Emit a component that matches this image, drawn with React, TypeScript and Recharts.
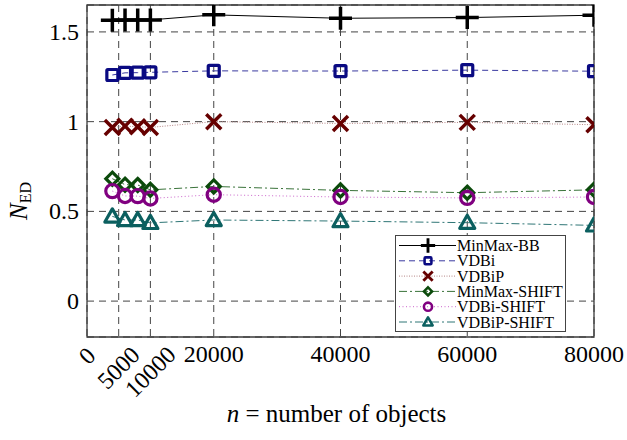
import React from 'react';
import { LineChart, Line, XAxis, YAxis, CartesianGrid, ReferenceArea, Label } from 'recharts';

const xValues = [4000, 6000, 8000, 10000, 20000, 40000, 60000, 80000];
const minmaxBB = [1.565, 1.566, 1.566, 1.567, 1.595, 1.576, 1.58, 1.593];
const vdbi = [1.26, 1.272, 1.273, 1.275, 1.283, 1.282, 1.287, 1.281];
const vdbip = [0.968, 0.975, 0.972, 0.968, 1.0, 0.99, 0.996, 0.983];
const minmaxShift = [0.682, 0.649, 0.647, 0.62, 0.639, 0.617, 0.604, 0.62];
const vdbiShift = [0.613, 0.586, 0.585, 0.572, 0.593, 0.58, 0.575, 0.58];
const vdbipShift = [0.472, 0.452, 0.452, 0.436, 0.452, 0.446, 0.437, 0.422];

const xTicks = [0, 5000, 10000, 20000, 40000, 60000, 80000];
const yTicks = [0, 0.5, 1, 1.5];

const FONT = 'Liberation Serif, Times New Roman, serif';
const fontStyle = { fontFamily: FONT };

type MarkerType = 'plus' | 'square' | 'x' | 'diamond' | 'circle' | 'triangle';

interface SeriesDef {
  key: string;
  name: string;
  values: number[];
  marker: MarkerType;
  markerColor: string;
  lineColor: string;
  dash?: string;
}

const series: SeriesDef[] = [
  { key: 'bb', name: 'MinMax-BB', values: minmaxBB, marker: 'plus', markerColor: '#000000', lineColor: '#000000' },
  { key: 'vdbi', name: 'VDBi', values: vdbi, marker: 'square', markerColor: '#0a0a82', lineColor: '#3a3aa0', dash: '6 4' },
  { key: 'vdbip', name: 'VDBiP', values: vdbip, marker: 'x', markerColor: '#660000', lineColor: '#b58585', dash: '1 1.5' },
  { key: 'mmshift', name: 'MinMax-SHIFT', values: minmaxShift, marker: 'diamond', markerColor: '#0b4a0b', lineColor: '#3a733a', dash: '8 3 2 3' },
  { key: 'vdbishift', name: 'VDBi-SHIFT', values: vdbiShift, marker: 'circle', markerColor: '#800080', lineColor: '#cc66cc', dash: '1 2.5' },
  { key: 'vdbipshift', name: 'VDBiP-SHIFT', values: vdbipShift, marker: 'triangle', markerColor: '#0b5f5f', lineColor: '#2f7676', dash: '8 3 2 3' },
];

const rows = xValues.map((x, i) => {
  const r: Record<string, number> = { x };
  series.forEach((s) => {
    r[s.key] = s.values[i];
  });
  return r;
});

function Marker({ type, cx, cy, color, s = 1 }: { type: MarkerType; cx: number; cy: number; color: string; s?: number }) {
  const sw = 3.2 * (s < 1 ? 0.8 : 1);
  switch (type) {
    case 'plus': {
      const a = 11.5 * s;
      return (
        <path d={`M${cx - a},${cy}H${cx + a}M${cx},${cy - a}V${cy + a}`} stroke={color} strokeWidth={sw + 0.3} fill="none" />
      );
    }
    case 'square': {
      const a = 5.5 * s;
      return <rect x={cx - a} y={cy - a} width={2 * a} height={2 * a} rx={1} stroke={color} strokeWidth={sw} fill="none" />;
    }
    case 'x': {
      const a = 7.5 * s;
      return (
        <path d={`M${cx - a},${cy - a}L${cx + a},${cy + a}M${cx - a},${cy + a}L${cx + a},${cy - a}`} stroke={color} strokeWidth={sw + 0.3} fill="none" />
      );
    }
    case 'diamond': {
      const a = 6.5 * s;
      return (
        <path d={`M${cx},${cy - a}L${cx + a},${cy}L${cx},${cy + a}L${cx - a},${cy}Z`} stroke={color} strokeWidth={sw} fill="none" strokeLinejoin="miter" />
      );
    }
    case 'circle': {
      return <circle cx={cx} cy={cy} r={6.6 * s} stroke={color} strokeWidth={sw} fill="none" />;
    }
    case 'triangle': {
      const a = 7.5 * s;
      return (
        <path d={`M${cx},${cy - a}L${cx + a},${cy + a * 0.75}L${cx - a},${cy + a * 0.75}Z`} stroke={color} strokeWidth={sw} fill="none" strokeLinejoin="round" />
      );
    }
  }
  return null;
}

const XTick = (props: any) => {
  const { x, y, payload } = props;
  const v = payload.value as number;
  const label = String(v);
  if (v > 10000) {
    return (
      <text x={x} y={y + 17} textAnchor="middle" style={fontStyle} fontSize={24} fill="#000">
        {label}
      </text>
    );
  }
  const w = label.length * 12;
  const cy = y + 7 + w * 0.33;
  return (
    <text
      x={x}
      y={cy}
      textAnchor="middle"
      dominantBaseline="central"
      transform={`rotate(-45, ${x}, ${cy})`}
      style={fontStyle}
      fontSize={24}
      fill="#000"
    >
      {label}
    </text>
  );
};

const YTick = (props: any) => {
  const { x, y, payload } = props;
  return (
    <text x={x} y={y + 8} textAnchor="end" style={fontStyle} fontSize={24} fill="#000">
      {String(payload.value)}
    </text>
  );
};

const XTitle = (props: any) => {
  const vb = props.viewBox || { x: 87, y: 337, width: 507, height: 103 };
  const cx = vb.x + vb.width / 2 - 4;
  return (
    <text x={cx} y={vb.y + 85} textAnchor="middle" style={fontStyle} fontSize={25} fill="#000">
      <tspan fontStyle="italic">n</tspan>
      <tspan> = number of objects</tspan>
    </text>
  );
};

const YTitle = () => {
  const x = 27;
  const y = 201;
  return (
    <text x={x} y={y} textAnchor="middle" transform={`rotate(-90, ${x}, ${y})`} style={fontStyle} fontSize={25} fill="#000">
      <tspan fontStyle="italic">N</tspan>
      <tspan fontSize={16} dy={4}>ED</tspan>
    </text>
  );
};

const LegendBox = () => {
  const W = 171;
  const H = 97;
  return (
    <svg width={W} height={H} style={{ display: 'block' }}>
      <rect x={0.5} y={0.5} width={W - 1} height={H - 1} fill="#fff" stroke="#444" strokeWidth={1} />
      {series.map((s, i) => {
        const cy = 10.5 + i * 15.3;
        return (
          <g key={s.key}>
            <line x1={4} x2={61} y1={cy} y2={cy} stroke={s.lineColor} strokeWidth={1} strokeDasharray={s.dash} />
            <Marker type={s.marker} cx={33} cy={cy} color={s.markerColor} s={0.62} />
            <text x={62} y={cy + 5.5} style={fontStyle} fontSize={16} fill="#000">
              {s.name}
            </text>
          </g>
        );
      })}
    </svg>
  );
};

export default function App() {
  return (
    <div style={{ position: 'absolute', left: 0, top: 0, width: 627, height: 440, background: '#fff' }}>
      <LineChart width={627} height={440} data={rows} margin={{ top: 5, right: 33, bottom: 0, left: 0 }}>
        <CartesianGrid stroke="#444" strokeDasharray="7 5" strokeWidth={1} />
        <XAxis
          dataKey="x"
          type="number"
          domain={[0, 80000]}
          ticks={xTicks}
          interval={0}
          height={103}
          tickLine={false}
          axisLine={false}
          tick={<XTick />}
          allowDataOverflow
        >
          <Label content={<XTitle />} />
        </XAxis>
        <YAxis
          type="number"
          domain={[-0.2, 1.65]}
          ticks={yTicks}
          interval={0}
          width={87}
          tickLine={false}
          axisLine={false}
          tick={<YTick />}
          allowDataOverflow
        >
          <Label content={<YTitle />} />
        </YAxis>
        <ReferenceArea x1={0} x2={80000} y1={-0.2} y2={1.65} fill="none" stroke="#3a3a3a" strokeWidth={1.3} />
        {series.map((s) => (
          <Line
            key={s.key}
            dataKey={s.key}
            name={s.name}
            stroke={s.lineColor}
            strokeWidth={1}
            strokeDasharray={s.dash}
            isAnimationActive={false}
            dot={(p: any) => <Marker key={`${s.key}-${p.index}`} type={s.marker} cx={p.cx} cy={p.cy} color={s.markerColor} />}
            activeDot={false}
          />
        ))}
      </LineChart>
      <div style={{ position: 'absolute', left: 395, top: 235 }}>
        <LegendBox />
      </div>
    </div>
  );
}
